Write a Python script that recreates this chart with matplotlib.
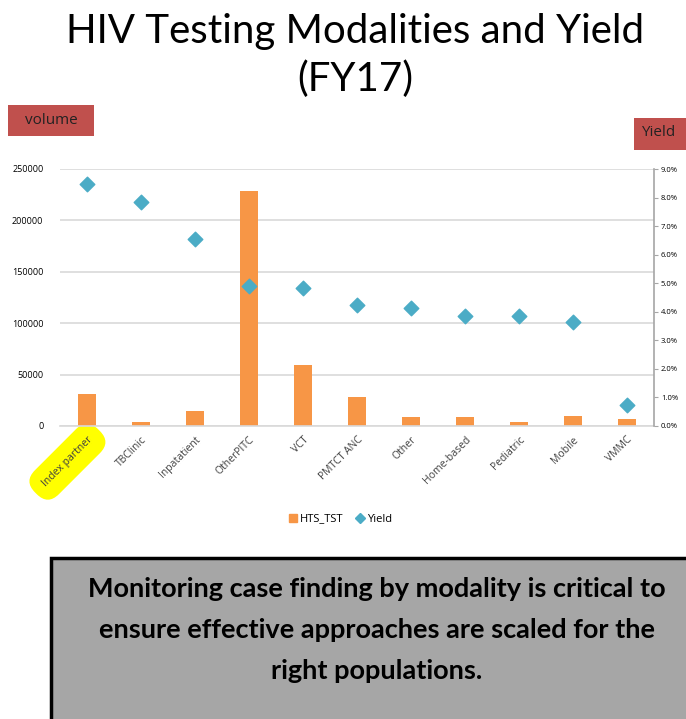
import matplotlib
matplotlib.use("Agg")
import matplotlib.pyplot as plt
from matplotlib.patches import Rectangle
from matplotlib.lines import Line2D
from matplotlib.ticker import FuncFormatter

categories = ["Index partner", "TBClinic", "Inpatatient", "OtherPITC", "VCT", "PMTCT ANC",
              "Other", "Home-based", "Pediatric", "Mobile", "VMMC"]
hts_tst = [31000, 4000, 15000, 229000, 59000, 28000, 8500, 8500, 4000, 10000, 7000]
yield_pct = [8.49, 7.85, 6.55, 4.90, 4.82, 4.22, 4.12, 3.84, 3.84, 3.63, 0.74]
left_ticks = [0, 50000, 100000, 150000, 200000, 250000]
right_ticks = [0, 1, 2, 3, 4, 5, 6, 7, 8, 9]

BAR = "#F79646"
DIA = "#4BACC6"
RED = "#C0504D"
FONT = "Open Sans"
TFONT = "Lato"

W, H = 686, 719
fig = plt.figure(figsize=(W / 100, H / 100), dpi=100)

def fx(px):
    return px / W

def fy(py):
    return 1 - py / H

# Title
fig.text(fx(355), fy(31), "HIV Testing Modalities and Yield", ha="center", va="center",
         fontsize=29, family=TFONT)
fig.text(fx(355), fy(79), "(FY17)", ha="center", va="center", fontsize=29, family=TFONT)

# Axes
ax = fig.add_axes([fx(60), fy(426), fx(654) - fx(60), fy(169) - fy(426)])
x = list(range(len(categories)))
ax.bar(x, hts_tst, width=0.32, color=BAR, zorder=2)
ax.set_xlim(-0.5, len(categories) - 0.5)
ax.set_ylim(0, 250000)
ax.set_yticks(left_ticks)
ax.set_yticklabels([str(v) for v in left_ticks], fontsize=6.5, family=FONT)
ax.yaxis.grid(True, color="#D9D9D9", linewidth=1.2, zorder=0)
ax.set_axisbelow(True)
for s in ["top", "right", "left"]:
    ax.spines[s].set_visible(False)
ax.spines["bottom"].set_color("#D9D9D9")
ax.spines["bottom"].set_linewidth(1.2)
ax.tick_params(axis="y", length=0, pad=12)
ax.tick_params(axis="x", length=0, pad=6)
ax.set_xticks(x)
labels = ax.set_xticklabels(categories, rotation=45, ha="right", rotation_mode="anchor",
                            fontsize=7.5, family=FONT, color="#404040")
labels[0].set_bbox(dict(boxstyle="round,pad=1.1,rounding_size=1.5", fc="#FFFF00", ec="none"))

ax2 = ax.twinx()
ax2.scatter(x, yield_pct, marker="D", s=55, color=DIA, zorder=3)
ax2.set_ylim(0, 9)
ax2.set_yticks(right_ticks)
ax2.yaxis.set_major_formatter(FuncFormatter(lambda v, p: f"{v:.1f}%"))
for t in ax2.get_yticklabels():
    t.set_fontsize(5.5)
    t.set_family(FONT)
for s in ["top", "left", "bottom"]:
    ax2.spines[s].set_visible(False)
ax2.spines["right"].set_color("#A6A6A6")
ax2.spines["right"].set_linewidth(1.2)
ax2.tick_params(axis="y", length=3, color="#A6A6A6", pad=2)

# Legend
handles = [Line2D([], [], marker="s", linestyle="none", color=BAR, markersize=6),
           Line2D([], [], marker="D", linestyle="none", color=DIA, markersize=5)]
fig.legend(handles, ["HTS_TST", "Yield"], loc="center", bbox_to_anchor=(fx(340), fy(519)),
           ncol=2, frameon=False, prop={"family": FONT, "size": 8},
           handletextpad=0.1, columnspacing=1.0, handlelength=1.0)

# Axis title boxes
fig.patches.append(Rectangle((fx(8), fy(136)), fx(86), fy(105) - fy(136), transform=fig.transFigure,
                             fc=RED, ec="none"))
fig.text(fx(51), fy(120), "volume", ha="center", va="center", fontsize=11, family=FONT, color="#222222")
fig.patches.append(Rectangle((fx(634), fy(150)), fx(60), fy(118) - fy(150), transform=fig.transFigure,
                             fc=RED, ec="none"))
fig.text(fx(641), fy(133), "Yield", ha="left", va="center", fontsize=11, family=FONT, color="#222222")

# Bottom box
fig.patches.append(Rectangle((fx(51), fy(722)), fx(640), fy(558) - fy(722), transform=fig.transFigure,
                             fc="#A6A6A6", ec="black", lw=2.5))
msg = ["Monitoring case finding by modality is critical to",
       "ensure effective approaches are scaled for the",
       "right populations."]
for i, line in enumerate(msg):
    fig.text(fx(377), fy(589 + i * 41), line, ha="center", va="center", fontsize=19.5,
             fontweight="bold", family=TFONT, color="black")

fig.savefig("out.png", dpi=100)
